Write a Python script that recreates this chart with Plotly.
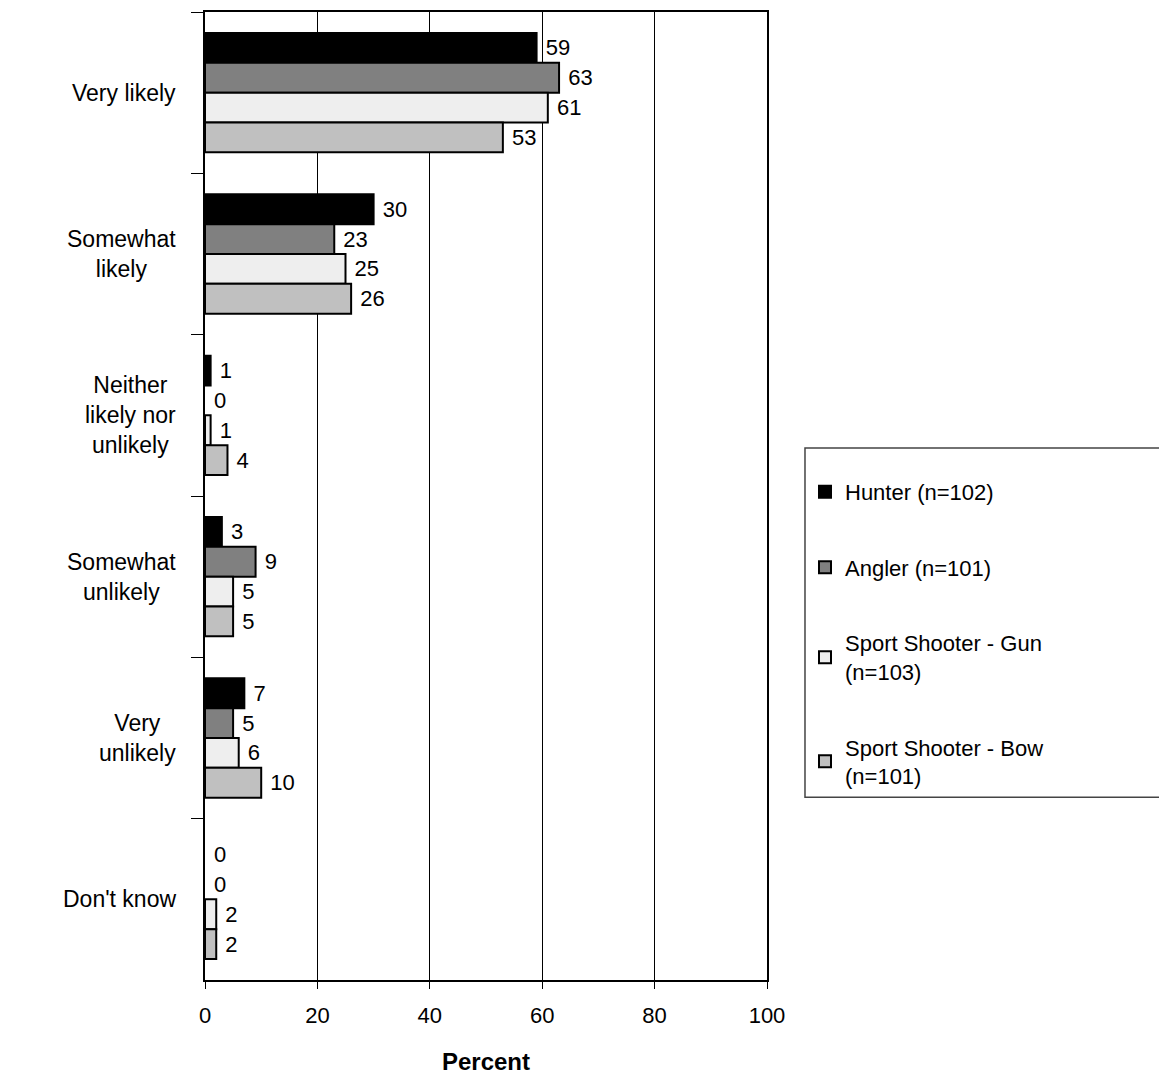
"""
Likelihood by user group - horizontal grouped bar chart
"""

import plotly.graph_objects as go

# categories, top to bottom
categories = ['Very likely', 'Somewhat likely', 'Neither likely nor unlikely',
              'Somewhat unlikely', 'Very unlikely', "Don't know"]
category_labels = ['Very likely', 'Somewhat<br>likely', 'Neither<br>likely nor<br>unlikely',
                   'Somewhat<br>unlikely', 'Very<br>unlikely', "Don't know"]

series_names = ['Hunter (n=102)', 'Angler (n=101)',
                'Sport Shooter - Gun<br>(n=103)', 'Sport Shooter - Bow<br>(n=101)']
hunter = [59, 30, 1, 3, 7, 0]
angler = [63, 23, 0, 9, 5, 0]
gun = [61, 25, 1, 5, 6, 2]
bow = [53, 26, 4, 5, 10, 2]

x_ticks = [0, 20, 40, 60, 80, 100]

COLORS = ['#000000', '#808080', '#eeeeee', '#c0c0c0']
FONT = 'Liberation Sans, Arial, sans-serif'

fig = go.Figure()

for name, vals, color in zip(series_names, [hunter, angler, gun, bow], COLORS):
    fig.add_trace(go.Bar(
        y=categories,
        x=vals,
        name=name,
        legendgroup=name,
        orientation='h',
        marker=dict(color=color,
                    line=dict(color='black', width=[0 if v == 0 else 2 for v in vals])),
        text=vals,
        texttemplate=' %{x}',
        textposition='outside',
        cliponaxis=False,
        textfont=dict(family=FONT, size=22, color='black'),
    ))

# category labels, centred lines like the original
for cat, lab in zip(categories, category_labels):
    fig.add_annotation(
        x=-0.048, xref='paper', y=cat, yref='y',
        text=lab, showarrow=False,
        xanchor='right', align='center',
        font=dict(family=FONT, size=23, color='black'),
    )

# legend frame (runs off the right edge like the original)
fig.add_shape(
    type='rect', xref='paper', yref='paper',
    x0=1.0676, x1=1.9, y0=0.1887, y1=0.5495,
    line=dict(color='#444444', width=1.5), fillcolor='white', layer='below',
)

fig.update_layout(
    width=1159,
    height=1068,
    barmode='group',
    bargap=0.26,
    bargroupgap=0,
    plot_bgcolor='white',
    paper_bgcolor='white',
    margin=dict(l=197, r=400, t=2, b=96),
    font=dict(family=FONT, color='black'),
    legend=dict(
        x=1.0676, y=0.526, xanchor='left', yanchor='top',
        borderwidth=0, bgcolor='rgba(0,0,0,0)',
        font=dict(family=FONT, size=22, color='black'),
        tracegroupgap=44,
        traceorder='grouped',
    ),
)

fig.update_xaxes(
    range=[0, 100],
    tickvals=x_ticks,
    ticks='outside', ticklen=7, tickcolor='black',
    ticklabelstandoff=8,
    tickfont=dict(family=FONT, size=22, color='black'),
    showgrid=True, gridcolor='black', gridwidth=1,
    showline=True, linecolor='black', linewidth=2, mirror=True,
    zeroline=False,
    title=dict(text='<b>Percent</b>', font=dict(family=FONT, size=24, color='black'), standoff=26),
)

fig.update_yaxes(
    categoryorder='array', categoryarray=categories,
    autorange='reversed',
    tickson='boundaries',
    ticks='outside', ticklen=12, tickcolor='black',
    showticklabels=False,
    showgrid=False,
    showline=True, linecolor='black', linewidth=2, mirror=True,
)

fig.write_html("out.html")
